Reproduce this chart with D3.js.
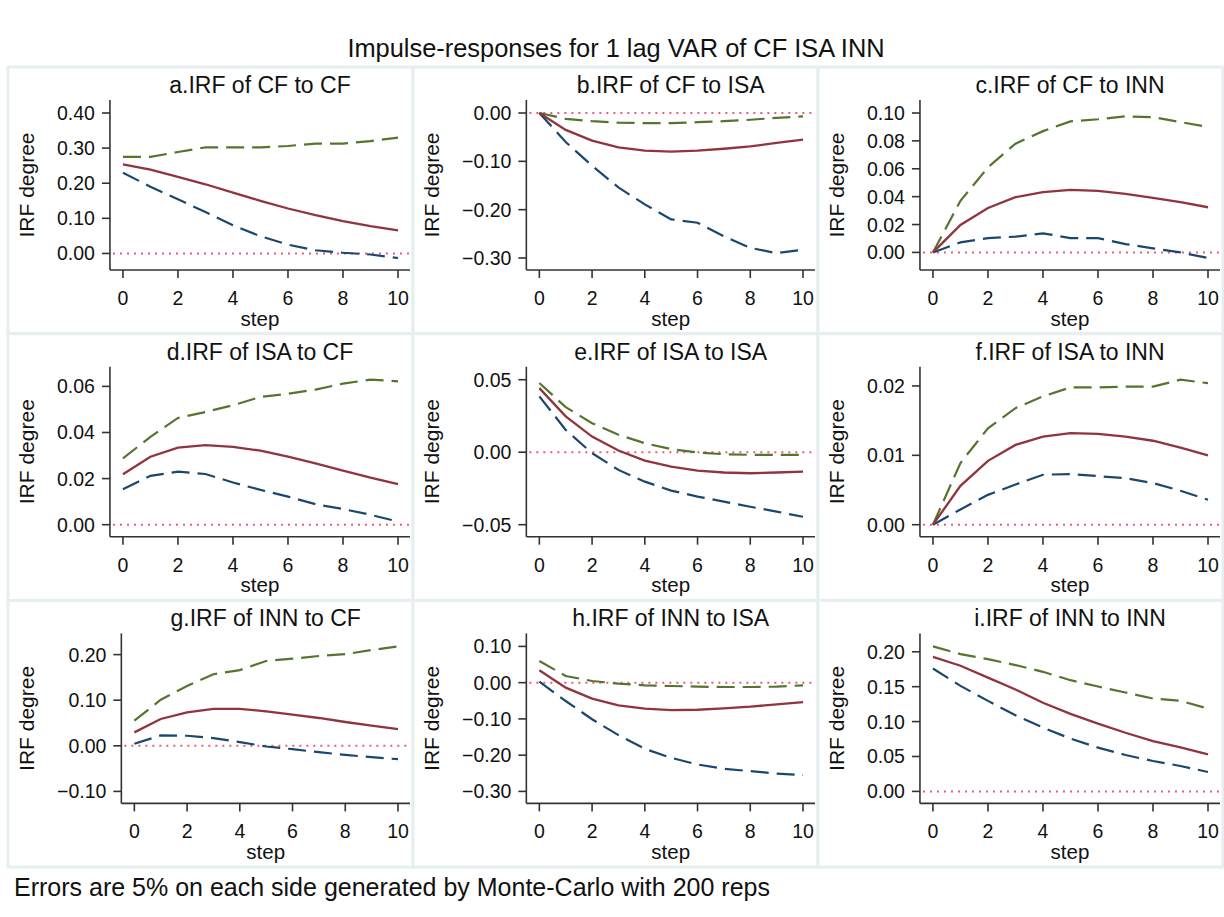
<!DOCTYPE html>
<html>
<head>
<meta charset="utf-8">
<script src="https://cdn.jsdelivr.net/npm/d3@7"></script>
<style>
  body { margin: 0; background: #fff; }
  svg text { font-family: "Liberation Sans", Arial, sans-serif; fill: #111; }
</style>
</head>
<body>
<svg id="chart" width="1224" height="917"></svg>
<script>
// steps on the x axis
var steps = [0, 1, 2, 3, 4, 5, 6, 7, 8, 9, 10];
var xTicks = [0, 2, 4, 6, 8, 10];

var mainTitle = "Impulse-responses for 1 lag VAR of CF ISA INN";
var note = "Errors are 5% on each side generated by Monte-Carlo with 200 reps";
var panelTitles = ["a.IRF of CF to CF", "b.IRF of CF to ISA", "c.IRF of CF to INN",
                   "d.IRF of ISA to CF", "e.IRF of ISA to ISA", "f.IRF of ISA to INN",
                   "g.IRF of INN to CF", "h.IRF of INN to ISA", "i.IRF of INN to INN"];

// a. CF -> CF
var irf_a   = [0.254, 0.239, 0.218, 0.197, 0.173, 0.150, 0.128, 0.109, 0.092, 0.078, 0.066];
var upper_a = [0.275, 0.275, 0.289, 0.302, 0.302, 0.302, 0.306, 0.313, 0.313, 0.320, 0.330];
var lower_a = [0.230, 0.190, 0.154, 0.118, 0.080, 0.049, 0.025, 0.009, 0.002, -0.003, -0.013];
var ticks_a = [0, 0.1, 0.2, 0.3, 0.4];

// b. CF -> ISA
var irf_b   = [0, -0.035, -0.057, -0.071, -0.078, -0.080, -0.078, -0.074, -0.069, -0.062, -0.055];
var upper_b = [0, -0.012, -0.017, -0.020, -0.021, -0.021, -0.019, -0.017, -0.014, -0.010, -0.007];
var lower_b = [0, -0.060, -0.109, -0.154, -0.189, -0.220, -0.227, -0.255, -0.279, -0.290, -0.283];
var ticks_b = [-0.3, -0.2, -0.1, 0];

// c. CF -> INN
var irf_c   = [0, 0.0197, 0.0319, 0.0396, 0.0432, 0.0448, 0.0441, 0.0420, 0.0391, 0.0360, 0.0324];
var upper_c = [0, 0.037, 0.061, 0.078, 0.087, 0.094, 0.0955, 0.0976, 0.097, 0.0935, 0.090];
var lower_c = [0, 0.0072, 0.0103, 0.0113, 0.0137, 0.0103, 0.0103, 0.006, 0.0029, 0.0, -0.004];
var ticks_c = [0, 0.02, 0.04, 0.06, 0.08, 0.10];

// d. ISA -> CF
var irf_d   = [0.0219, 0.0295, 0.0334, 0.0345, 0.0338, 0.0321, 0.0295, 0.0266, 0.0235, 0.0204, 0.0176];
var upper_d = [0.0288, 0.0381, 0.0463, 0.0489, 0.0518, 0.0554, 0.0568, 0.0586, 0.0612, 0.0629, 0.0622];
var lower_d = [0.0154, 0.0212, 0.0230, 0.0220, 0.0183, 0.0151, 0.0122, 0.0089, 0.0068, 0.0043, 0.0014];
var ticks_d = [0, 0.02, 0.04, 0.06];

// e. ISA -> ISA
var irf_e   = [0.0442, 0.0247, 0.0108, 0.0012, -0.0058, -0.0099, -0.0127, -0.0140, -0.0145, -0.0140, -0.0134];
var upper_e = [0.0477, 0.0311, 0.0200, 0.0120, 0.0062, 0.0021, -0.0002, -0.0014, -0.0018, -0.0018, -0.0018];
var lower_e = [0.0385, 0.0154, -0.0007, -0.0122, -0.0203, -0.0265, -0.0306, -0.0341, -0.0376, -0.0410, -0.0445];
var ticks_e = [-0.05, 0, 0.05];

// f. ISA -> INN
var irf_f   = [0, 0.0056, 0.0092, 0.0115, 0.0127, 0.0132, 0.0131, 0.0127, 0.0121, 0.0111, 0.0100];
var upper_f = [0, 0.0089, 0.0139, 0.0168, 0.0185, 0.0198, 0.0198, 0.0199, 0.0199, 0.0209, 0.0204];
var lower_f = [0, 0.0022, 0.0043, 0.0058, 0.0072, 0.0073, 0.0070, 0.0067, 0.0060, 0.0049, 0.0036];
var ticks_f = [0, 0.01, 0.02];

// g. INN -> CF
var irf_g   = [0.0294, 0.0588, 0.0735, 0.0809, 0.0809, 0.0757, 0.0684, 0.0610, 0.0522, 0.0441, 0.0368];
var upper_g = [0.055, 0.101, 0.131, 0.157, 0.166, 0.186, 0.191, 0.197, 0.201, 0.210, 0.218];
var lower_g = [0.0044, 0.0228, 0.0220, 0.0169, 0.0081, -0.0015, -0.0074, -0.0140, -0.0199, -0.0250, -0.0294];
var ticks_g = [-0.1, 0, 0.1, 0.2];

// h. INN -> ISA
var irf_h   = [0.034, -0.0138, -0.0442, -0.0627, -0.0719, -0.0756, -0.0747, -0.0710, -0.0664, -0.0600, -0.0535];
var upper_h = [0.0599, 0.0184, 0.0046, -0.0028, -0.0074, -0.0092, -0.0110, -0.0120, -0.0120, -0.0110, -0.0074];
var lower_h = [0.0028, -0.0507, -0.1010, -0.1447, -0.1825, -0.2074, -0.2258, -0.2378, -0.2442, -0.2507, -0.2553];
var ticks_h = [-0.3, -0.2, -0.1, 0, 0.1];

// i. INN -> INN
var irf_i   = [0.1928, 0.180, 0.163, 0.146, 0.127, 0.111, 0.097, 0.084, 0.072, 0.063, 0.053];
var upper_i = [0.2077, 0.1967, 0.1895, 0.1809, 0.1713, 0.1593, 0.1502, 0.1416, 0.1330, 0.1297, 0.1187];
var lower_i = [0.176, 0.1512, 0.1297, 0.109, 0.0914, 0.0756, 0.0627, 0.0522, 0.0435, 0.0364, 0.0278];
var ticks_i = [0, 0.05, 0.10, 0.15, 0.20];

var panels = [
  {irf: irf_a, upper: upper_a, lower: lower_a, ticks: ticks_a},
  {irf: irf_b, upper: upper_b, lower: lower_b, ticks: ticks_b},
  {irf: irf_c, upper: upper_c, lower: lower_c, ticks: ticks_c},
  {irf: irf_d, upper: upper_d, lower: lower_d, ticks: ticks_d},
  {irf: irf_e, upper: upper_e, lower: lower_e, ticks: ticks_e},
  {irf: irf_f, upper: upper_f, lower: lower_f, ticks: ticks_f},
  {irf: irf_g, upper: upper_g, lower: lower_g, ticks: ticks_g},
  {irf: irf_h, upper: upper_h, lower: lower_h, ticks: ticks_h},
  {irf: irf_i, upper: upper_i, lower: lower_i, ticks: ticks_i}
];

var colIrf = "#90353b", colLower = "#1a476f", colUpper = "#55752f", colZero = "#ea5a7a";
var left0 = 8, top0 = 67, panelW = 405, panelH = 266.7;

var svg = d3.select("#chart");

svg.append("text")
  .attr("x", 616).attr("y", 48)
  .attr("text-anchor", "middle").attr("dominant-baseline", "central")
  .style("font-size", "25.4px")
  .text(mainTitle);

svg.append("text")
  .attr("x", 14).attr("y", 887)
  .attr("dominant-baseline", "central")
  .style("font-size", "25px")
  .text(note);

var fmt = function(v) { return d3.format(".2f")(v).replace("-", "\u2212"); };

panels.forEach(function(p, k) {
  var col = k % 3, row = Math.floor(k / 3);
  var px = left0 + col * panelW, py = top0 + row * panelH;
  var g = svg.append("g");

  g.append("rect")
    .attr("x", px).attr("y", py)
    .attr("width", panelW).attr("height", panelH)
    .attr("fill", "#fff")
    .attr("stroke", "#e6eef0").attr("stroke-width", 3);

  // y labels first so the axis position can follow their width
  var labs = g.append("g");
  var lt = labs.selectAll("text").data(p.ticks).enter().append("text")
    .style("font-size", "19.5px")
    .attr("text-anchor", "end").attr("dominant-baseline", "central")
    .text(fmt);
  var maxW = 0;
  lt.each(function() { maxW = Math.max(maxW, this.getComputedTextLength()); });

  var axisX = px + 64 + maxW;
  var plotRight = px + panelW - 3;
  var axisY = py + 203;

  var all = p.irf.concat(p.upper, p.lower, p.ticks);
  var y = d3.scaleLinear().domain([d3.min(all), d3.max(all)]).range([py + 191, py + 46]);
  var x = d3.scaleLinear().domain([0, 10]).range([axisX + 13, px + panelW - 15]);

  lt.attr("x", axisX - 15).attr("y", function(d) { return y(d); });

  // zero line
  g.append("line")
    .attr("x1", axisX + 3).attr("x2", plotRight)
    .attr("y1", y(0)).attr("y2", y(0))
    .attr("stroke", colZero).attr("stroke-width", 2)
    .attr("stroke-dasharray", "2,5");

  // y axis
  g.append("line")
    .attr("x1", axisX).attr("x2", axisX)
    .attr("y1", py + 33).attr("y2", axisY)
    .attr("stroke", "#333").attr("stroke-width", 1.6);
  g.selectAll(".ytick").data(p.ticks).enter().append("line")
    .attr("x1", axisX - 8).attr("x2", axisX)
    .attr("y1", function(d) { return y(d); }).attr("y2", function(d) { return y(d); })
    .attr("stroke", "#333").attr("stroke-width", 1.6);

  // x axis
  g.append("line")
    .attr("x1", axisX).attr("x2", plotRight)
    .attr("y1", axisY).attr("y2", axisY)
    .attr("stroke", "#333").attr("stroke-width", 1.6);
  g.selectAll(".xtick").data(xTicks).enter().append("line")
    .attr("x1", function(d) { return x(d); }).attr("x2", function(d) { return x(d); })
    .attr("y1", axisY).attr("y2", axisY + 8)
    .attr("stroke", "#333").attr("stroke-width", 1.6);
  g.selectAll(".xlab").data(xTicks).enter().append("text")
    .attr("x", function(d) { return x(d); }).attr("y", axisY + 28)
    .attr("text-anchor", "middle").attr("dominant-baseline", "central")
    .style("font-size", "19.5px")
    .text(function(d) { return d; });

  var midX = (axisX + plotRight) / 2;
  g.append("text")
    .attr("x", midX).attr("y", axisY + 48)
    .attr("text-anchor", "middle").attr("dominant-baseline", "central")
    .style("font-size", "20.5px")
    .text("step");

  g.append("text")
    .attr("transform", "translate(" + (px + 18) + "," + (py + 118) + ") rotate(-90)")
    .attr("text-anchor", "middle").attr("dominant-baseline", "central")
    .style("font-size", "21px")
    .text("IRF degree");

  g.append("text")
    .attr("x", midX).attr("y", py + 18)
    .attr("text-anchor", "middle").attr("dominant-baseline", "central")
    .style("font-size", "23px")
    .text(panelTitles[k]);

  var line = d3.line()
    .x(function(d, i) { return x(steps[i]); })
    .y(function(d) { return y(d); });

  g.append("path").datum(p.lower)
    .attr("d", line).attr("fill", "none")
    .attr("stroke", colLower).attr("stroke-width", 2.2)
    .attr("stroke-dasharray", "18,8");
  g.append("path").datum(p.upper)
    .attr("d", line).attr("fill", "none")
    .attr("stroke", colUpper).attr("stroke-width", 2.2)
    .attr("stroke-dasharray", "18,8");
  g.append("path").datum(p.irf)
    .attr("d", line).attr("fill", "none")
    .attr("stroke", colIrf).attr("stroke-width", 2.3);
});
</script>
</body>
</html>
